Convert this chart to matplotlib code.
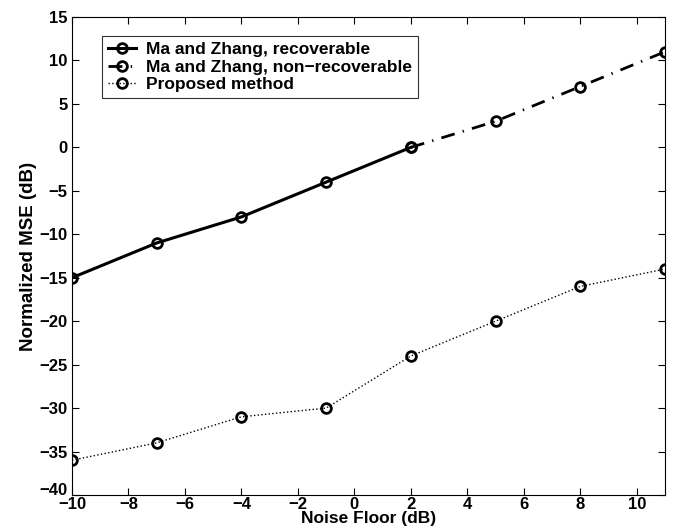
import matplotlib
matplotlib.use("Agg")
import matplotlib.pyplot as plt
import matplotlib.transforms as mtransforms

plt.rcParams['font.family'] = ['Liberation Sans', 'DejaVu Sans']
plt.rcParams['font.weight'] = 'bold'

# data
x_rec = [-10, -7, -4, -1, 2]
y_rec = [-15, -11, -8, -4, 0]
x_nonrec = [2, 5, 8, 11]
y_nonrec = [0, 3, 7, 11]
x_prop = [-10, -7, -4, -1, 2, 5, 8, 11]
y_prop = [-36, -34, -31, -30, -24, -20, -16, -14]

fig = plt.figure(figsize=(6.77, 5.31), dpi=100)
ax = fig.add_axes([72 / 677, 36 / 531, 593 / 677, 478 / 531])

mk = dict(marker='o', markersize=7, markerfacecolor='none',
          markeredgecolor='black', markeredgewidth=2, color='black')

ax.plot(x_rec, y_rec, linestyle='-', linewidth=2.2,
        label='Ma and Zhang, recoverable', **mk)
ax.plot(x_nonrec, y_nonrec, linestyle=(0, (5, 3, 0.5, 3)), linewidth=2.0,
        label='Ma and Zhang, non\u2212recoverable', **mk)
ax.plot(x_prop, y_prop, linestyle=':', linewidth=1.0,
        label='Proposed method', **mk)

ax.set_xlim(-10, 11)
ax.set_ylim(-40, 15)
ax.set_xticks(range(-10, 11, 2))
ax.set_yticks(range(-40, 16, 5))
ax.set_xticklabels([str(v).replace('-', '\u2212') for v in range(-10, 11, 2)])
ax.set_yticklabels([str(v).replace('-', '\u2212') for v in range(-40, 16, 5)])
ax.tick_params(direction='in', length=5, labelsize=12, top=True, right=True)
ax.tick_params(axis='x', pad=1.5)
ax.tick_params(axis='y', pad=3)
for sp in ax.spines.values():
    sp.set_linewidth(0.8)

# lift the bottom y label a little so it clears the -10 below it
lbl = ax.get_yticklabels()[0]
lbl.set_transform(lbl.get_transform() +
                  mtransforms.ScaledTranslation(0, 6 / 100, fig.dpi_scale_trans))

ax.set_xlabel('Noise Floor (dB)', fontsize=12.5, fontweight='bold', labelpad=-1)
ax.set_ylabel('Normalized MSE (dB)', fontsize=13.5, fontweight='bold', labelpad=2)

leg = ax.legend(loc='upper left', bbox_to_anchor=(0.05, 0.96), fontsize=12.5,
                frameon=True, fancybox=False, edgecolor='black',
                handlelength=1.6, handletextpad=0.6, borderpad=0.35,
                labelspacing=0.12, borderaxespad=0)
leg.get_frame().set_linewidth(0.8)

fig.savefig('out.png', dpi=100)
